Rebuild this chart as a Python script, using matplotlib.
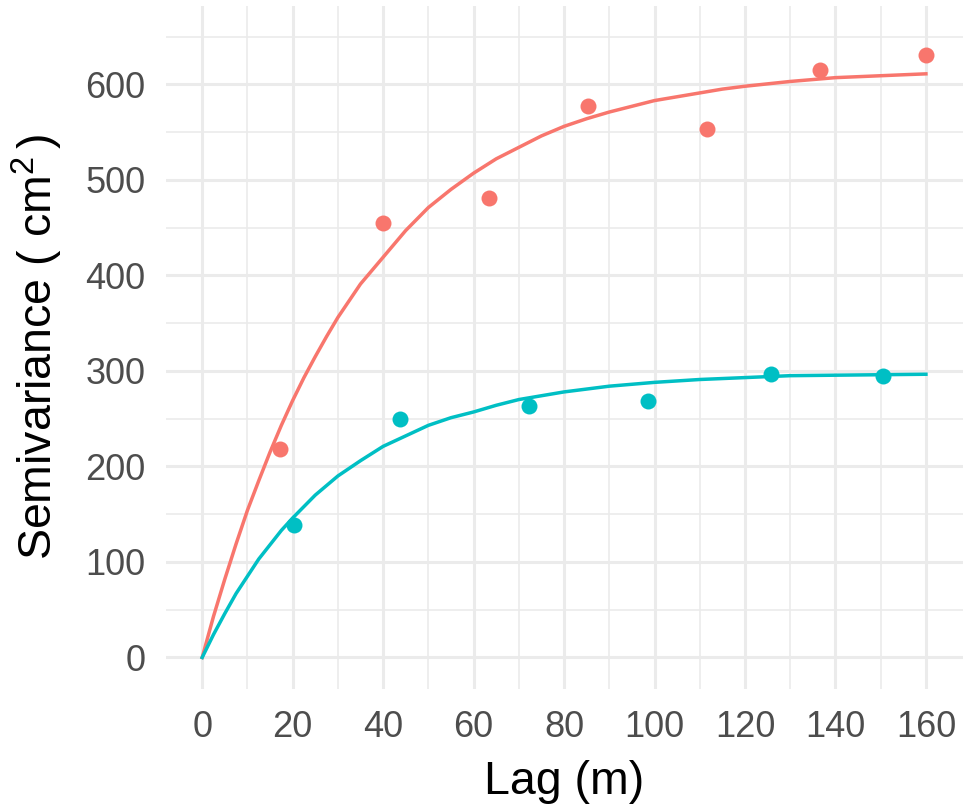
import matplotlib
matplotlib.use("Agg")
import matplotlib.pyplot as plt
from matplotlib.ticker import MultipleLocator

plt.rcParams['font.family'] = ['Liberation Sans', 'DejaVu Sans']
plt.rcParams['mathtext.fontset'] = 'custom'
plt.rcParams['mathtext.rm'] = 'Liberation Sans'
plt.rcParams['mathtext.it'] = 'Liberation Sans'
plt.rcParams['mathtext.bf'] = 'Liberation Sans'

red_lag = [17.3, 40.0, 63.3, 85.3, 111.7, 136.5, 160.0]
red_gamma = [218, 455, 481, 577, 553, 615, 631]
cyan_lag = [20.4, 43.8, 72.2, 98.6, 125.8, 150.5]
cyan_gamma = [139, 250, 263, 269, 297, 295]

# Fitted model curves (values at these lags)
curve_lag = [0, 2.5, 5, 7.5, 10, 12.5, 15, 17.5, 20, 22.5, 25, 27.5, 30, 35,
             40, 45, 50, 55, 60, 65, 70, 75, 80, 85, 90, 95, 100, 105, 110,
             115, 120, 130, 140, 150, 160]
red_curve = [0, 43, 82, 119, 154, 185, 215, 243, 269, 293, 315, 336, 356, 391,
             419, 447, 471, 490, 507, 522, 534, 546, 556, 564, 571, 577, 583,
             587, 591, 595, 598, 603, 607, 609, 611]
cyan_curve = [0, 24, 46, 67, 85, 103, 118, 133, 146, 158, 170, 180, 190, 206,
              221, 232, 243, 251, 257, 264, 270, 274, 278, 281, 284, 286, 288,
              289.5, 291, 292, 293, 295, 295.5, 296, 296.5]

x_ticks = [0, 20, 40, 60, 80, 100, 120, 140, 160]
y_ticks = [0, 100, 200, 300, 400, 500, 600]

RED = '#F8766D'
CYAN = '#00BFC4'

fig = plt.figure(figsize=(9.69, 8.06), dpi=100)
ax = fig.add_axes([166/969, 1-689/806, (963-166)/969, (689-6)/806])

ax.plot(curve_lag, red_curve, color=RED, lw=2.5, zorder=3, solid_joinstyle='round')
ax.plot(curve_lag, cyan_curve, color=CYAN, lw=2.5, zorder=3, solid_joinstyle='round')
ax.plot(red_lag, red_gamma, 'o', color=RED, ms=11.5, mew=0, zorder=4)
ax.plot(cyan_lag, cyan_gamma, 'o', color=CYAN, ms=11.5, mew=0, zorder=4)

ax.set_xlim(-8, 168.2)
ax.set_ylim(-33, 682)
ax.set_xticks(x_ticks)
ax.set_yticks(y_ticks)
ax.xaxis.set_minor_locator(MultipleLocator(10))
ax.yaxis.set_minor_locator(MultipleLocator(50))

ax.grid(which='major', color='#EBEBEB', lw=2.2)
ax.grid(which='minor', color='#EBEBEB', lw=1.2)
ax.set_axisbelow(True)
for s in ax.spines.values():
    s.set_visible(False)

ax.tick_params(which='both', length=0)
ax.tick_params(axis='x', labelsize=26, labelcolor='#4D4D4D', pad=15)
ax.tick_params(axis='y', labelsize=26, labelcolor='#4D4D4D', pad=15)

ax.set_xlabel('Lag (m)', fontsize=33.5, color='black', labelpad=11)
ax.set_ylabel('Semivariance ( cm$^{2}\\,$)', fontsize=33.5, color='black', labelpad=14)

fig.savefig('out.png', dpi=100)
